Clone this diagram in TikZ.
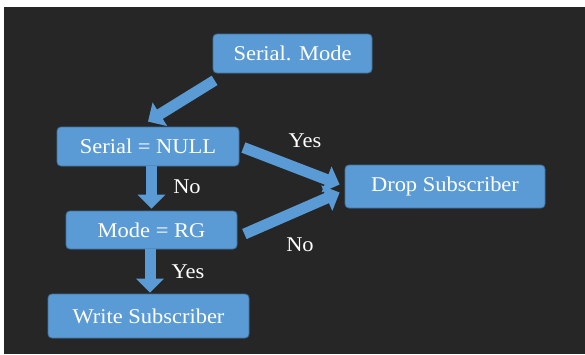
\documentclass[tikz,border=0pt]{standalone}
\usepackage{fontspec}
\usepackage{graphicx}
\setmainfont{Liberation Serif}
\usetikzlibrary{arrows.meta,calc}
\definecolor{bg}{HTML}{262626}
\definecolor{boxblue}{HTML}{5B9BD5}
\definecolor{boxedge}{HTML}{41719C}
\newcommand{\wtxt}[1]{\scalebox{1.07}[1]{#1}}
\tikzset{
  flowbox/.style={rectangle, rounded corners=4pt, fill=boxblue, draw=boxedge, line width=0.8pt,
    text=white, font=\fontsize{21}{23}\selectfont, inner sep=0pt},
  blockarrow/.style={draw=boxblue, line width=11pt,
    -{Triangle[width=27pt,length=14pt]}},
  lbl/.style={text=white, font=\fontsize{21}{23}\selectfont, inner sep=0pt}
}
\begin{document}
\begin{tikzpicture}[x=1pt,y=-1pt]
\useasboundingbox (0,0) rectangle (585,354);
\fill[white] (0,0) rectangle (585,354);
\fill[bg] (4,7) rectangle (585,354);

\node[flowbox, minimum width=159pt, minimum height=39pt] (sm) at (292.5,53.5) {\wtxt{Serial. Mode}};
\node[flowbox, minimum width=182pt, minimum height=39pt] (sn) at (148,146.5) {\wtxt{Serial = NULL}};
\node[flowbox, minimum width=171pt, minimum height=38pt] (mr) at (151.5,230) {\wtxt{Mode = RG}};
\node[flowbox, minimum width=201pt, minimum height=44pt] (ws) at (148.5,316) {\wtxt{Write Subscriber}};
\node[flowbox, minimum width=200pt, minimum height=43pt] (ds) at (445,186.5) {\wtxt{Drop Subscriber}};

\draw[blockarrow] ($(sm.south west)+(2,7)$) -- ($(sn.north)+(0,-5)$);
\draw[blockarrow] ($(mr.north |- sn.south)+(0,0)$) -- ($(mr.north)+(0,-2)$);
\draw[blockarrow] ($(mr.south)+(-1.5,0)$) -- ($(ws.north)+(1.5,-1)$);
\draw[blockarrow] ($(sn.east)+(4,1)$) -- ($(ds.west)+(-5,-2)$);
\draw[blockarrow] ($(mr.east)+(7,4)$) -- ($(ds.west)+(-5,6)$);

\node[lbl] (y1) at (305,141) {\wtxt{Yes}};
\node[lbl] (n1) at (187,187) {\wtxt{No}};
\node[lbl] (n2) at (300,245) {\wtxt{No}};
\node[lbl] (y2) at (188,272) {\wtxt{Yes}};
\end{tikzpicture}
\end{document}
